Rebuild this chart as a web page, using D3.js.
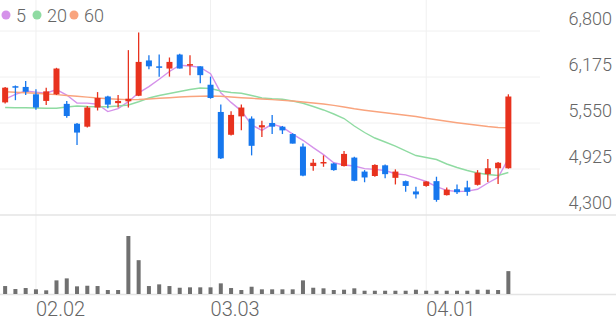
<!DOCTYPE html>
<html>
<head>
<meta charset="utf-8">
<script src="https://cdn.jsdelivr.net/npm/d3@7/dist/d3.min.js"></script>
<style>
body{margin:0;background:#fff;}
svg{display:block;font-family:Roboto,"Noto Sans",sans-serif;}
</style>
</head>
<body>
<svg id="chart" width="616" height="321"></svg>
<script>
// trading days (MM.DD)
var dates = ["01.28","01.29","01.30",
  "02.02","02.03","02.04","02.05","02.06","02.09","02.10","02.11","02.12","02.13",
  "02.19","02.20","02.23","02.24","02.25","02.26","02.27",
  "03.03","03.04","03.05","03.06","03.09","03.10","03.11","03.12","03.13",
  "03.16","03.17","03.18","03.19","03.20","03.23","03.24","03.25","03.26","03.27",
  "03.30","03.31",
  "04.01","04.02","04.03","04.06","04.07","04.08","04.09","04.10","04.13"];

var open  = [5830,6050,6040,5940,5850,5940,5810,5540,5500,5760,5910,5820,5845,5920,6400,6320,6290,6480,6330,6320,
             6070,5700,5390,5640,5610,5490,5550,5500,5400,5230,4965,5000,5000,4965,5080,4890,4830,4975,4805,4760,
             4620,4695,4760,4570,4650,4675,4710,4855,4935,4935];
var high  = [6040,6060,6120,6010,6030,6300,5850,5550,5780,5970,5920,5930,6540,6780,6470,6480,6440,6490,6470,6320,
             6180,5800,5710,5800,5640,5580,5660,5510,5410,5270,5060,5110,5010,5170,5090,4910,4990,4985,4920,4770,
             4685,4760,4820,4675,4715,4765,4910,5060,5020,5940];
var low   = [5815,5860,5930,5730,5795,5930,5620,5250,5490,5720,5750,5760,5760,5915,6280,6180,6180,6290,6200,6090,
             5880,5060,5380,5450,5110,5360,5400,5400,5270,4825,4900,4955,4900,4960,4760,4745,4820,4800,4715,4615,
             4525,4685,4480,4565,4585,4560,4700,4750,4720,4930];
var close = [6030,6030,5975,5760,5980,6290,5645,5420,5760,5890,5800,5850,5880,6380,6320,6300,6380,6290,6350,6200,
             5890,5070,5660,5760,5240,5520,5500,5450,5270,4835,5010,5020,4910,5130,4765,4810,4980,4855,4890,4695,
             4580,4755,4505,4645,4610,4615,4875,4935,5010,5910];
var volume = [80,50,60,47,37,137,157,77,83,80,40,40,583,340,80,97,80,63,67,67,
              67,107,60,40,73,47,47,47,47,137,63,57,40,43,57,33,33,33,33,33,
              43,33,33,33,33,33,43,43,40,230]; // thousand shares

var ma5  = [5875,5940,5985,5970,5955,6005,5930,5820,5820,5805,5705,5745,5840,5960,6045,6145,6250,6335,6325,6305,
            6220,5960,5830,5715,5525,5450,5535,5495,5400,5315,5215,5120,5010,4980,4965,4930,4920,4905,4860,4845,
            4800,4755,4685,4635,4620,4625,4650,4735,4810,5065];
var ma20 = [5760,5758,5757,5754,5751,5750,5767,5781,5774,5771,5771,5781,5795,5839,5890,5924,5951,5978,6005,6026,
            6019,5985,5964,5954,5924,5890,5879,5872,5849,5818,5774,5727,5672,5611,5509,5421,5346,5292,5237,5170,
            5108,5081,5054,4993,4945,4905,4871,4850,4837,4877];
var ma60 = [5975,5968,5962,5954,5944,5935,5924,5913,5901,5890,5880,5872,5867,5869,5876,5886,5894,5903,5910,5914,
            5917,5913,5903,5894,5886,5876,5867,5858,5849,5835,5822,5808,5790,5767,5743,5724,5706,5689,5672,5656,
            5638,5614,5594,5573,5554,5536,5519,5502,5489,5486];

var priceTicks = [6800,6175,5550,4925,4300];
var dateTicks = ["02.02","03.03","04.01"];
var legendLabels = ["5","20","60"];

var upColor = "#e8321e", downColor = "#1677ee";
var maColors = ["#d592ea","#8fdba2","#f9a47e"];

var svg = d3.select("#chart");
var x = d3.scaleBand().domain(dates).range([0, 513.5]);
var cx = function(d){ return x(d) + x.bandwidth()/2; };
var y = d3.scaleLinear().domain([4300,6800]).range([215,31]);
var yVol = d3.scaleLinear().domain([0, d3.max(volume)]).range([294,236]);

// grid
svg.append("g").selectAll("line").data(priceTicks.slice(0,4)).enter().append("line")
  .attr("x1",0).attr("x2",540)
  .attr("y1",function(d){return y(d);}).attr("y2",function(d){return y(d);})
  .attr("stroke","#f0f0f0").attr("stroke-width",1);
svg.append("g").selectAll("line").data(dateTicks).enter().append("line")
  .attr("x1",function(d){return cx(d);}).attr("x2",function(d){return cx(d);})
  .attr("y1",0).attr("y2",294)
  .attr("stroke","#f0f0f0").attr("stroke-width",1);
svg.append("line").attr("x1",0).attr("x2",616).attr("y1",y(4300)).attr("y2",y(4300))
  .attr("stroke","#e4e4e4").attr("stroke-width",1.5);
svg.append("line").attr("x1",0).attr("x2",616).attr("y1",294.5).attr("y2",294.5)
  .attr("stroke","#e4e4e4").attr("stroke-width",1.5);

// y labels
svg.append("g").selectAll("text").data(priceTicks).enter().append("text")
  .attr("x",612).attr("y",function(d){return y(d)-6;})
  .attr("text-anchor","end").attr("font-size",18).attr("font-weight",300).attr("fill","#666")
  .text(function(d){return d3.format(",")(d);});

// x labels
svg.append("g").selectAll("text").data(dateTicks).enter().append("text")
  .attr("x",function(d){return cx(d);}).attr("y",316)
  .attr("font-size",20).attr("font-weight",300).attr("fill","#666")
  .text(function(d){return d;});

// moving averages
[ma5, ma20, ma60].forEach(function(ma, k){
  var line = d3.line().x(function(d,i){return cx(dates[i]);}).y(function(d){return y(d);});
  svg.append("path").datum(ma).attr("d",line).attr("fill","none")
    .attr("stroke",maColors[k]).attr("stroke-width",1.4);
});

// candles
var candles = svg.append("g").selectAll("g").data(dates).enter().append("g");
candles.append("line")
  .attr("x1",function(d){return cx(d);}).attr("x2",function(d){return cx(d);})
  .attr("y1",function(d,i){return y(high[i]);}).attr("y2",function(d,i){return y(low[i]);})
  .attr("stroke",function(d,i){return close[i]>=open[i]?upColor:downColor;})
  .attr("stroke-width",1.3);
candles.append("rect")
  .attr("x",function(d){return cx(d)-3;}).attr("width",6)
  .attr("y",function(d,i){return y(Math.max(open[i],close[i]));})
  .attr("height",function(d,i){return Math.max(1.5, Math.abs(y(open[i])-y(close[i])));})
  .attr("fill",function(d,i){return close[i]>=open[i]?upColor:downColor;});

// volume
svg.append("g").selectAll("rect").data(dates).enter().append("rect")
  .attr("x",function(d){return cx(d)-2;}).attr("width",4)
  .attr("y",function(d,i){return yVol(volume[i]);})
  .attr("height",function(d,i){return 294-yVol(volume[i]);})
  .attr("fill","#707070");

// legend
var lg = svg.append("g").selectAll("g").data(legendLabels).enter().append("g")
  .attr("transform",function(d,i){return "translate("+[6,37,74][i]+",15)";});
lg.append("circle").attr("r",4.5).attr("fill",function(d,i){return maColors[i];});
lg.append("text").attr("x",10).attr("y",6.5).attr("font-size",18).attr("font-weight",300)
  .attr("fill","#666").text(function(d){return d;});
</script>
</body>
</html>
